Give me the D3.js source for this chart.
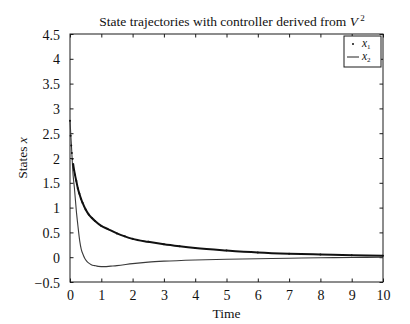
<!DOCTYPE html>
<html><head><meta charset="utf-8">
<script src="https://cdn.jsdelivr.net/npm/d3@7"></script>
<style>
html,body{margin:0;padding:0;background:#fff;}
svg{display:block;}
text{font-family:"Liberation Serif","Times New Roman",serif;fill:#111;}
</style></head>
<body><svg id="c" width="410" height="324"></svg>
<script>
// ---- data ----
const title = "State trajectories with controller derived from ";
const xLabel = "Time";
const yLabel = "States ";
const xTicks = [0,1,2,3,4,5,6,7,8,9,10];
const yTicks = [-0.5,0,0.5,1,1.5,2,2.5,3,3.5,4,4.5];
const yTickLabels = ["\u22120.5","0","0.5","1","1.5","2","2.5","3","3.5","4","4.5"];
const seriesNames = ["1","2"];

const t1 = [0,0.02,0.04,0.06,0.08,0.1,0.13,0.16,0.2,0.25,0.3,0.35,0.4,0.5,0.6,0.7,0.8,1.0,1.2,1.5,1.75,2,2.5,3,3.5,4,5,6,7,8,9,10];
const x1 = [2.75,2.45,2.25,2.1,1.98,1.88,1.76,1.66,1.54,1.39,1.28,1.18,1.1,0.96,0.86,0.79,0.73,0.63,0.57,0.48,0.42,0.37,0.31,0.26,0.22,0.185,0.135,0.095,0.07,0.055,0.04,0.03];

const t2 = [0,0.05,0.1,0.14,0.2,0.25,0.31,0.36,0.42,0.47,0.52,0.58,0.68,0.79,0.9,1.1,1.3,1.5,2,2.5,3,4,5,6,7,8,9,10];
const x2 = [2.75,2.2,1.65,1.4,0.95,0.65,0.33,0.16,0.05,-0.02,-0.07,-0.11,-0.15,-0.17,-0.185,-0.19,-0.18,-0.17,-0.13,-0.1,-0.08,-0.055,-0.04,-0.03,-0.02,-0.012,-0.005,0.0];

// ---- drawing ----
const svg = d3.select("#c");
const L=70,R=383,T=34,B=282;
const x = d3.scaleLinear().domain([0,10]).range([L,R]);
const y = d3.scaleLinear().domain([-0.5,4.5]).range([B,T]);
const ink="#1a1a1a";

const g = svg.append("g");
// frame
g.append("rect").attr("x",L).attr("y",T).attr("width",R-L).attr("height",B-T)
 .attr("fill","none").attr("stroke",ink).attr("stroke-width",1);

// axes (inward ticks)
const ax = d3.axisBottom(x).tickValues(xTicks).tickSize(-3.5).tickPadding(8).tickFormat(d3.format("d"));
const gx = g.append("g").attr("transform",`translate(0,${B})`).call(ax);
const axTop = d3.axisTop(x).tickValues(xTicks).tickSize(-3.5).tickFormat("");
const gxt = g.append("g").attr("transform",`translate(0,${T})`).call(axTop);
const ay = d3.axisLeft(y).tickValues(yTicks).tickSize(-3.5).tickPadding(10).tickFormat((d,i)=>yTickLabels[i]);
const gy = g.append("g").attr("transform",`translate(${L},0)`).call(ay);
const ayR = d3.axisRight(y).tickValues(yTicks).tickSize(-3.5).tickFormat("");
const gyr = g.append("g").attr("transform",`translate(${R},0)`).call(ayR);
[gx,gxt,gy,gyr].forEach(a=>{
  a.attr("font-family","Liberation Serif");
  a.select(".domain").remove();
  a.selectAll(".tick line").attr("stroke",ink);
  a.selectAll(".tick text").attr("font-size","14px").attr("font-family","Liberation Serif").attr("fill",ink);
});
gy.selectAll(".tick text").attr("dy","0.36em");

// series
const d1 = t1.map((t,i)=>[t,x1[i]]);
const d2 = t2.map((t,i)=>[t,x2[i]]);
const line = d3.line().x(d=>x(d[0])).y(d=>y(d[1])).curve(d3.curveMonotoneX);
g.append("path").attr("d",line(d2)).attr("fill","none").attr("stroke","#3a3a3a").attr("stroke-width",1.1);
g.append("path").attr("d",line(d1.filter(d=>d[0]>=0.1))).attr("fill","none").attr("stroke","#111").attr("stroke-width",2);
g.selectAll("circle.x1").data(d1).enter().append("circle").attr("class","x1")
 .attr("cx",d=>x(d[0])).attr("cy",d=>y(d[1])).attr("r",1).attr("fill","#111");

// title
const tt = svg.append("text").attr("x",232).attr("y",26).attr("text-anchor","middle").attr("font-size","13.5px");
tt.append("tspan").text(title);
tt.append("tspan").attr("font-style","italic").text("V");
tt.append("tspan").attr("font-size","9px").attr("dy","-5").text(" 2");

// x label
svg.append("text").attr("x",(L+R)/2).attr("y",318).attr("text-anchor","middle").attr("font-size","13.5px").text(xLabel);
// y label
const yl = svg.append("text").attr("transform",`translate(27,${(T+B)/2}) rotate(-90)`).attr("text-anchor","middle").attr("font-size","13.5px");
yl.append("tspan").text(yLabel);
yl.append("tspan").attr("font-style","italic").text("x");

// legend
const lg = svg.append("g");
lg.append("rect").attr("x",344).attr("y",36).attr("width",37).attr("height",31)
  .attr("fill","#fff").attr("stroke",ink).attr("stroke-width",1);
lg.append("circle").attr("cx",353).attr("cy",44).attr("r",1).attr("fill","#111");
lg.append("line").attr("x1",347).attr("x2",359).attr("y1",57).attr("y2",57).attr("stroke","#222").attr("stroke-width",1);
seriesNames.forEach((s,i)=>{
  const tx = lg.append("text").attr("x",362).attr("y",47+i*13).attr("font-size","11.5px");
  tx.append("tspan").attr("font-style","italic").text("x");
  tx.append("tspan").attr("font-size","7px").attr("dy","2").text(s);
});
</script></body></html>
